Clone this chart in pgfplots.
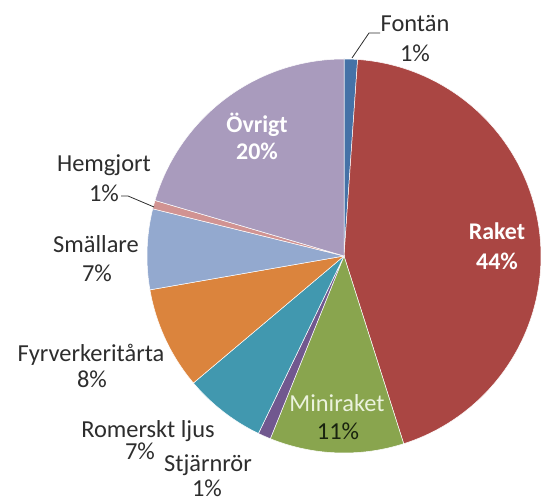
\documentclass[border=0pt]{standalone}
\usepackage{pgfplots}
\pgfplotsset{compat=1.18}
\usepackage{fontspec}
\setmainfont{Carlito}
\definecolor{cFon}{HTML}{4572A7}
\definecolor{cRak}{HTML}{AA4643}
\definecolor{cMin}{HTML}{89A54E}
\definecolor{cStj}{HTML}{71588F}
\definecolor{cRom}{HTML}{4198AF}
\definecolor{cFyr}{HTML}{DB843D}
\definecolor{cSma}{HTML}{93A9CF}
\definecolor{cHem}{HTML}{D19392}
\definecolor{cOvr}{HTML}{A99BBD}
\definecolor{lbl}{RGB}{45,45,45}
\definecolor{minilight}{RGB}{235,242,222}
\definecolor{minidark}{RGB}{25,35,15}
% slice shares in percent (clockwise from the top)
\def\vFon{1.1}\def\vRak{44.0}\def\vMin{11.0}\def\vStj{1.05}\def\vRom{6.7}
\def\vFyr{8.4}\def\vSma{6.6}\def\vHem{0.7}\def\vOvr{20.45}
\def\cx{344}\def\cy{246}\def\R{197}
\newcommand\slice[3]{% start share, end share, colour
  \pgfmathsetmacro\angA{90-3.6*(#2)}%
  \pgfmathsetmacro\angB{90-3.6*(#1)}%
  \addplot[fill=#3, draw=white, line width=0.5pt, domain=\angA:\angB, samples=120, variable=\t]
    ({\cx+\R*cos(\t)},{\cy+\R*sin(\t)}) -- (axis cs:\cx,\cy) -- cycle;
}
\tikzset{
  lab/.style={anchor=base, inner sep=0pt, text=lbl, font=\fontsize{24.5}{29}\selectfont},
  blab/.style={anchor=base, inner sep=0pt, text=white, font=\fontsize{24}{29}\selectfont\bfseries},
}
\begin{document}
\begin{tikzpicture}
\begin{axis}[
  at={(0,0)}, anchor=south west,
  scale only axis, width=542bp, height=502bp,
  xmin=0, xmax=542, ymin=0, ymax=502,
  hide axis, clip=false,
]
\pgfmathsetmacro\sA{\vFon}
\pgfmathsetmacro\sB{\sA+\vRak}
\pgfmathsetmacro\sC{\sB+\vMin}
\pgfmathsetmacro\sD{\sC+\vStj}
\pgfmathsetmacro\sE{\sD+\vRom}
\pgfmathsetmacro\sF{\sE+\vFyr}
\pgfmathsetmacro\sG{\sF+\vSma}
\pgfmathsetmacro\sH{\sG+\vHem}
\slice{0}{\sA}{cFon}
\slice{\sA}{\sB}{cRak}
\slice{\sB}{\sC}{cMin}
\slice{\sC}{\sD}{cStj}
\slice{\sD}{\sE}{cRom}
\slice{\sE}{\sF}{cFyr}
\slice{\sF}{\sG}{cSma}
\slice{\sG}{\sH}{cHem}
\slice{\sH}{100}{cOvr}
% leader lines
\draw[lbl, line width=0.8pt] (axis cs:352,444) -- (axis cs:369,469) -- (axis cs:380,469);
\draw[lbl, line width=0.8pt] (axis cs:121,306) -- (axis cs:128,306) -- (axis cs:154,295);
% labels (x centre, baseline)
\node[lab] at (axis cs:415,470) {Fontän};
\node[lab] at (axis cs:415,440) {1\%};
\node[blab] at (axis cs:497,262) {Raket};
\node[blab] at (axis cs:497,232) {44\%};
\node[blab] at (axis cs:257,369) {Övrigt};
\node[blab] at (axis cs:257,342) {20\%};
\node[lab, text=minilight] at (axis cs:337,90) {Miniraket};
\node[lab, text=minidark] at (axis cs:338,62) {11\%};
\node[lab] at (axis cs:104,330) {Hemgjort};
\node[lab] at (axis cs:104,300) {1\%};
\node[lab] at (axis cs:96,249) {Smällare};
\node[lab] at (axis cs:97,220) {7\%};
\node[lab] at (axis cs:91,140) {Fyrverkeritårta};
\node[lab] at (axis cs:92,114) {8\%};
\node[lab] at (axis cs:148,64) {Romerskt ljus};
\node[lab] at (axis cs:140,42) {7\%};
\node[lab] at (axis cs:208,30) {Stjärnrör};
\node[lab] at (axis cs:207,5) {1\%};
\end{axis}
\pgfresetboundingbox
\path[use as bounding box] (0,0) rectangle (542bp,502bp);
\end{tikzpicture}
\end{document}
